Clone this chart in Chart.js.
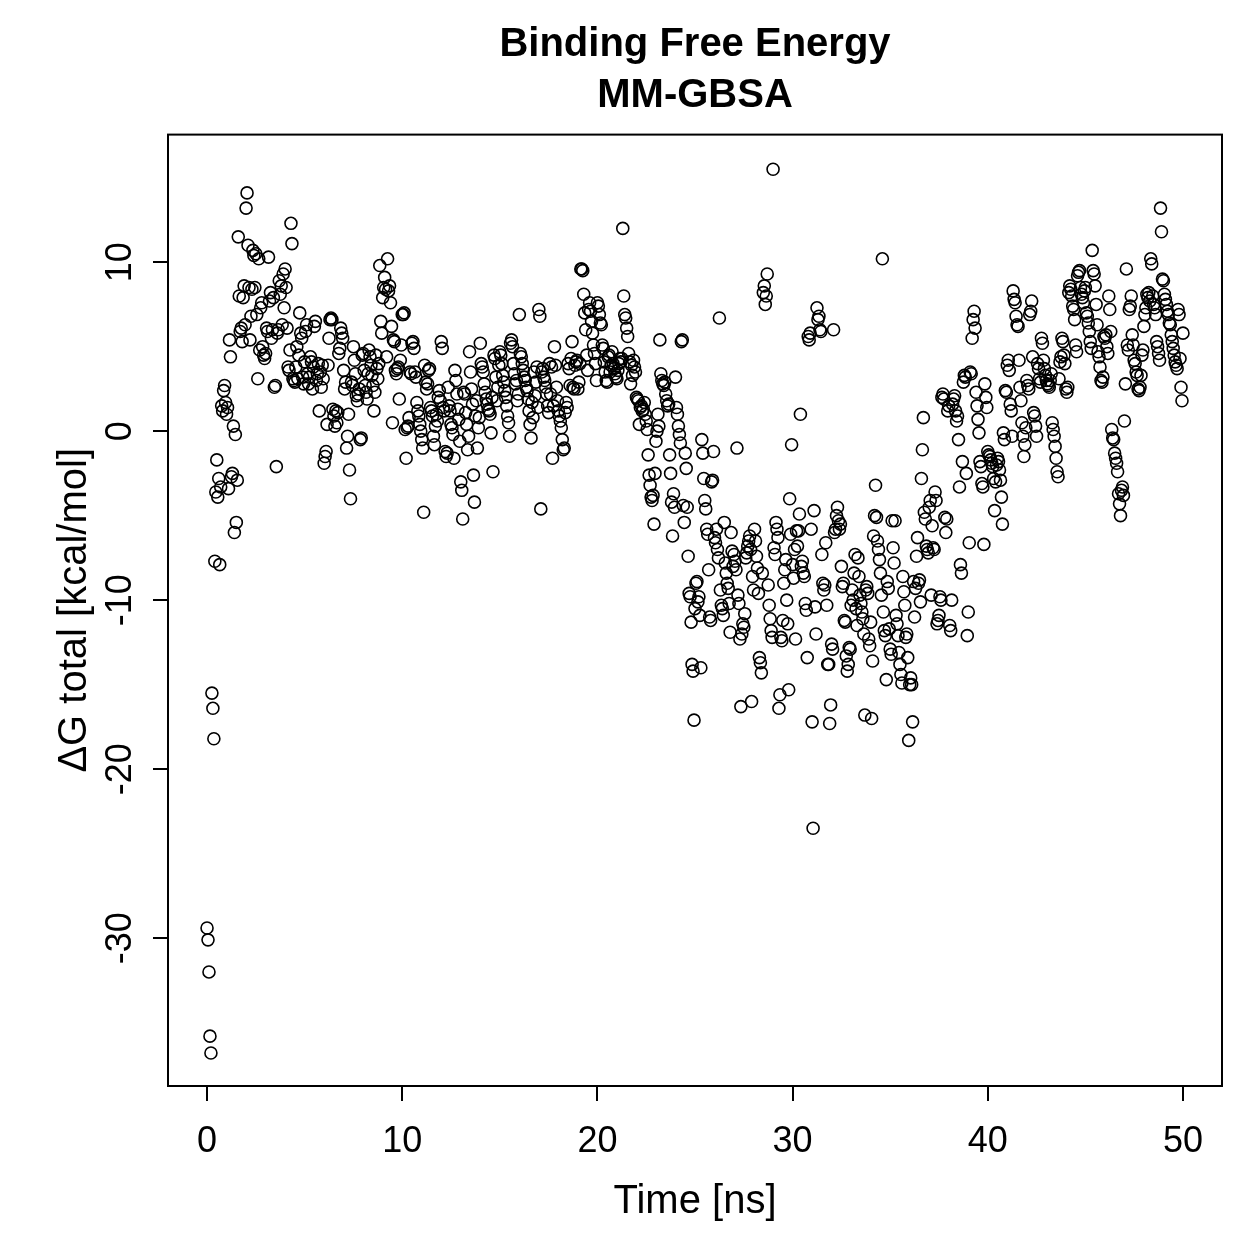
<!DOCTYPE html>
<html>
<head>
<meta charset="utf-8">
<title>Binding Free Energy</title>
<script src="https://cdn.jsdelivr.net/npm/chart.js"></script>
<style>
  html, body { margin: 0; padding: 0; background: #fff; }
  #bindingEnergy { display: block; }
</style>
</head>
<body>
<canvas id="bindingEnergy" width="1259" height="1259"></canvas>
<script>
// frame times (ns), 20 frames per ns
const timeNs = [
  0,0.05,0.1,0.15,0.2,0.25,0.3,0.35,0.4,0.45,0.5,0.55,0.6,0.65,0.7,0.75,0.8,0.85,0.9,0.95,
  1,1.05,1.1,1.15,1.2,1.25,1.3,1.35,1.4,1.45,1.5,1.55,1.6,1.65,1.7,1.75,1.8,1.85,1.9,1.95,
  2,2.05,2.1,2.15,2.2,2.25,2.3,2.35,2.4,2.45,2.5,2.55,2.6,2.65,2.7,2.75,2.8,2.85,2.9,2.95,
  3,3.05,3.1,3.15,3.2,3.25,3.3,3.35,3.4,3.45,3.5,3.55,3.6,3.65,3.7,3.75,3.8,3.85,3.9,3.95,
  4,4.05,4.1,4.15,4.2,4.25,4.3,4.35,4.4,4.45,4.5,4.55,4.6,4.65,4.7,4.75,4.8,4.85,4.9,4.95,
  5,5.05,5.1,5.15,5.2,5.25,5.3,5.35,5.4,5.45,5.5,5.55,5.6,5.65,5.7,5.75,5.8,5.85,5.9,5.95,
  6,6.05,6.1,6.15,6.2,6.25,6.3,6.35,6.4,6.45,6.5,6.55,6.6,6.65,6.7,6.75,6.8,6.85,6.9,6.95,
  7,7.05,7.1,7.15,7.2,7.25,7.3,7.35,7.4,7.45,7.5,7.55,7.6,7.65,7.7,7.75,7.8,7.85,7.9,7.95,
  8,8.05,8.1,8.15,8.2,8.25,8.3,8.35,8.4,8.45,8.5,8.55,8.6,8.65,8.7,8.75,8.8,8.85,8.9,8.95,
  9,9.05,9.1,9.15,9.2,9.25,9.3,9.35,9.4,9.45,9.5,9.55,9.6,9.65,9.7,9.75,9.8,9.85,9.9,9.95,
  10,10.05,10.1,10.15,10.2,10.25,10.3,10.35,10.4,10.45,10.5,10.55,10.6,10.65,10.7,10.75,10.8,10.85,10.9,10.95,
  11,11.05,11.1,11.15,11.2,11.25,11.3,11.35,11.4,11.45,11.5,11.55,11.6,11.65,11.7,11.75,11.8,11.85,11.9,11.95,
  12,12.05,12.1,12.15,12.2,12.25,12.3,12.35,12.4,12.45,12.5,12.55,12.6,12.65,12.7,12.75,12.8,12.85,12.9,12.95,
  13,13.05,13.1,13.15,13.2,13.25,13.3,13.35,13.4,13.45,13.5,13.55,13.6,13.65,13.7,13.75,13.8,13.85,13.9,13.95,
  14,14.05,14.1,14.15,14.2,14.25,14.3,14.35,14.4,14.45,14.5,14.55,14.6,14.65,14.7,14.75,14.8,14.85,14.9,14.95,
  15,15.05,15.1,15.15,15.2,15.25,15.3,15.35,15.4,15.45,15.5,15.55,15.6,15.65,15.7,15.75,15.8,15.85,15.9,15.95,
  16,16.05,16.1,16.15,16.2,16.25,16.3,16.35,16.4,16.45,16.5,16.55,16.6,16.65,16.7,16.75,16.8,16.85,16.9,16.95,
  17,17.05,17.1,17.15,17.2,17.25,17.3,17.35,17.4,17.45,17.5,17.55,17.6,17.65,17.7,17.75,17.8,17.85,17.9,17.95,
  18,18.05,18.1,18.15,18.2,18.25,18.3,18.35,18.4,18.45,18.5,18.55,18.6,18.65,18.7,18.75,18.8,18.85,18.9,18.95,
  19,19.05,19.1,19.15,19.2,19.25,19.3,19.35,19.4,19.45,19.5,19.55,19.6,19.65,19.7,19.75,19.8,19.85,19.9,19.95,
  20,20.05,20.1,20.15,20.2,20.25,20.3,20.35,20.4,20.45,20.5,20.55,20.6,20.65,20.7,20.75,20.8,20.85,20.9,20.95,
  21,21.05,21.1,21.15,21.2,21.25,21.3,21.35,21.4,21.45,21.5,21.55,21.6,21.65,21.7,21.75,21.8,21.85,21.9,21.95,
  22,22.05,22.1,22.15,22.2,22.25,22.3,22.35,22.4,22.45,22.5,22.55,22.6,22.65,22.7,22.75,22.8,22.85,22.9,22.95,
  23,23.05,23.1,23.15,23.2,23.25,23.3,23.35,23.4,23.45,23.5,23.55,23.6,23.65,23.7,23.75,23.8,23.85,23.9,23.95,
  24,24.05,24.1,24.15,24.2,24.25,24.3,24.35,24.4,24.45,24.5,24.55,24.6,24.65,24.7,24.75,24.8,24.85,24.9,24.95,
  25,25.05,25.1,25.15,25.2,25.25,25.3,25.35,25.4,25.45,25.5,25.55,25.6,25.65,25.7,25.75,25.8,25.85,25.9,25.95,
  26,26.05,26.1,26.15,26.2,26.25,26.3,26.35,26.4,26.45,26.5,26.55,26.6,26.65,26.7,26.75,26.8,26.85,26.9,26.95,
  27,27.05,27.1,27.15,27.2,27.25,27.3,27.35,27.4,27.45,27.5,27.55,27.6,27.65,27.7,27.75,27.8,27.85,27.9,27.95,
  28,28.05,28.1,28.15,28.2,28.25,28.3,28.35,28.4,28.45,28.5,28.55,28.6,28.65,28.7,28.75,28.8,28.85,28.9,28.95,
  29,29.05,29.1,29.15,29.2,29.25,29.3,29.35,29.4,29.45,29.5,29.55,29.6,29.65,29.7,29.75,29.8,29.85,29.9,29.95,
  30,30.05,30.1,30.15,30.2,30.25,30.3,30.35,30.4,30.45,30.5,30.55,30.6,30.65,30.7,30.75,30.8,30.85,30.9,30.95,
  31,31.05,31.1,31.15,31.2,31.25,31.3,31.35,31.4,31.45,31.5,31.55,31.6,31.65,31.7,31.75,31.8,31.85,31.9,31.95,
  32,32.05,32.1,32.15,32.2,32.25,32.3,32.35,32.4,32.45,32.5,32.55,32.6,32.65,32.7,32.75,32.8,32.85,32.9,32.95,
  33,33.05,33.1,33.15,33.2,33.25,33.3,33.35,33.4,33.45,33.5,33.55,33.6,33.65,33.7,33.75,33.8,33.85,33.9,33.95,
  34,34.05,34.1,34.15,34.2,34.25,34.3,34.35,34.4,34.45,34.5,34.55,34.6,34.65,34.7,34.75,34.8,34.85,34.9,34.95,
  35,35.05,35.1,35.15,35.2,35.25,35.3,35.35,35.4,35.45,35.5,35.55,35.6,35.65,35.7,35.75,35.8,35.85,35.9,35.95,
  36,36.05,36.1,36.15,36.2,36.25,36.3,36.35,36.4,36.45,36.5,36.55,36.6,36.65,36.7,36.75,36.8,36.85,36.9,36.95,
  37,37.05,37.1,37.15,37.2,37.25,37.3,37.35,37.4,37.45,37.5,37.55,37.6,37.65,37.7,37.75,37.8,37.85,37.9,37.95,
  38,38.05,38.1,38.15,38.2,38.25,38.3,38.35,38.4,38.45,38.5,38.55,38.6,38.65,38.7,38.75,38.8,38.85,38.9,38.95,
  39,39.05,39.1,39.15,39.2,39.25,39.3,39.35,39.4,39.45,39.5,39.55,39.6,39.65,39.7,39.75,39.8,39.85,39.9,39.95,
  40,40.05,40.1,40.15,40.2,40.25,40.3,40.35,40.4,40.45,40.5,40.55,40.6,40.65,40.7,40.75,40.8,40.85,40.9,40.95,
  41,41.05,41.1,41.15,41.2,41.25,41.3,41.35,41.4,41.45,41.5,41.55,41.6,41.65,41.7,41.75,41.8,41.85,41.9,41.95,
  42,42.05,42.1,42.15,42.2,42.25,42.3,42.35,42.4,42.45,42.5,42.55,42.6,42.65,42.7,42.75,42.8,42.85,42.9,42.95,
  43,43.05,43.1,43.15,43.2,43.25,43.3,43.35,43.4,43.45,43.5,43.55,43.6,43.65,43.7,43.75,43.8,43.85,43.9,43.95,
  44,44.05,44.1,44.15,44.2,44.25,44.3,44.35,44.4,44.45,44.5,44.55,44.6,44.65,44.7,44.75,44.8,44.85,44.9,44.95,
  45,45.05,45.1,45.15,45.2,45.25,45.3,45.35,45.4,45.45,45.5,45.55,45.6,45.65,45.7,45.75,45.8,45.85,45.9,45.95,
  46,46.05,46.1,46.15,46.2,46.25,46.3,46.35,46.4,46.45,46.5,46.55,46.6,46.65,46.7,46.75,46.8,46.85,46.9,46.95,
  47,47.05,47.1,47.15,47.2,47.25,47.3,47.35,47.4,47.45,47.5,47.55,47.6,47.65,47.7,47.75,47.8,47.85,47.9,47.95,
  48,48.05,48.1,48.15,48.2,48.25,48.3,48.35,48.4,48.45,48.5,48.55,48.6,48.65,48.7,48.75,48.8,48.85,48.9,48.95,
  49,49.05,49.1,49.15,49.2,49.25,49.3,49.35,49.4,49.45,49.5,49.55,49.6,49.65,49.7,49.75,49.8,49.85,49.9,49.95,
  50,
];

// ΔG total (kcal/mol), one row per ns
const deltaG = [
  -29.4,-30.1,-32.0,-35.8,-36.8,-15.5,-16.4,-18.2,-7.7,-3.6,-1.7,-3.9,-2.8,-7.9,-3.3,1.5,1.2,2.4,2.7,1.7,
  1.0,1.4,-3.4,5.4,4.4,-2.7,-2.5,0.3,-6.0,-0.2,-5.4,-2.9,11.5,8.0,5.9,6.1,5.3,7.9,8.6,6.3,
  13.2,14.1,11.0,8.5,5.4,6.8,8.4,10.7,10.4,8.5,10.5,6.9,3.1,10.2,4.8,7.3,7.6,5.0,4.5,4.3,
  4.6,6.1,5.9,10.3,7.7,8.2,5.5,6.0,7.9,2.6,2.7,-2.1,5.8,6.0,8.9,8.1,8.6,6.3,9.3,7.3,
  9.6,8.5,6.1,3.8,3.6,4.8,12.3,11.1,3.1,3.0,2.9,3.8,5.0,3.1,4.5,7.0,5.8,5.5,3.2,2.8,
  4.1,5.9,6.3,3.4,2.8,3.2,4.4,4.1,2.5,3.8,6.2,6.5,3.0,3.4,4.0,1.2,3.5,2.6,3.9,3.1,
  -1.9,-1.5,-1.2,0.4,3.9,5.5,6.6,6.7,6.6,1.3,0.9,0.3,1.2,0.5,1.1,4.6,4.9,6.1,5.8,5.5,
  3.6,2.5,2.9,-1.0,-0.3,1.0,-2.3,-4.0,2.9,2.7,5.0,4.2,3.4,2.1,1.8,2.2,2.5,-0.5,-0.4,4.5,
  4.6,3.6,2.7,2.3,1.9,3.4,4.8,4.4,3.9,3.3,2.7,1.2,2.3,4.5,3.7,3.1,4.0,9.8,6.5,5.8,
  7.9,8.5,9.1,8.4,4.4,10.2,8.3,8.6,7.6,6.2,0.5,5.4,5.3,3.6,3.4,3.7,3.8,1.9,4.2,5.1,
  6.9,6.9,7.0,0.1,-1.6,0.2,0.3,0.8,3.5,3.4,5.2,5.3,4.9,3.5,3.2,1.7,1.2,0.9,0.4,0.0,
  -0.5,-1.0,-4.8,3.9,2.9,2.5,2.8,3.6,3.7,1.4,1.2,0.9,-0.3,-0.8,0.3,1.0,0.6,2.0,2.4,1.8,
  5.3,4.9,1.4,1.2,-1.2,-1.5,-1.3,2.6,1.5,1.2,0.4,0.2,-0.2,-1.6,3.6,3.0,2.2,1.3,0.7,-0.6,
  -3.0,-3.5,-5.2,2.3,2.2,1.1,0.4,-1.1,-0.3,4.7,3.5,2.5,1.6,-2.6,-4.2,0.9,1.8,-1.0,0.2,0.8,
  5.2,4.0,3.8,3.5,2.8,2.3,1.9,1.6,1.3,1.2,1.0,-0.1,2.0,-2.4,4.5,4.3,3.2,1.8,2.6,3.9,
  4.7,4.5,4.0,3.3,2.9,2.4,2.0,1.5,0.9,0.5,-0.3,5.2,5.4,5.0,4.0,3.4,2.8,3.0,1.8,2.2,
  6.9,4.6,4.4,4.0,3.6,3.2,3.0,2.6,2.4,1.9,1.2,0.4,-0.4,1.7,0.8,3.5,2.1,2.9,3.8,1.4,
  7.2,6.8,-4.6,3.5,3.7,3.2,3.0,2.6,2.2,1.5,1.1,4.0,2.2,3.8,-1.6,1.5,5.0,3.9,2.6,1.8,
  1.2,0.9,0.6,0.2,-0.5,-1.1,-1.0,1.1,1.7,1.4,4.0,3.7,2.7,4.3,5.3,2.6,2.5,3.9,4.1,4.2,
  2.5,2.9,4.0,9.6,9.6,9.5,8.1,7.0,6.0,4.5,3.6,7.2,7.6,7.1,6.5,5.8,5.1,4.6,4.0,3.0,
  7.6,7.4,6.9,6.4,6.3,5.1,4.9,4.1,3.5,3.0,2.9,4.4,4.5,3.5,3.9,4.7,4.0,3.7,3.4,3.2,
  3.1,3.6,4.0,4.3,4.1,4.3,12.0,8.0,6.9,6.7,6.1,5.6,4.6,4.1,2.8,3.9,3.3,4.2,3.8,3.5,
  2.0,1.9,1.8,0.4,1.4,1.5,1.2,1.3,1.7,1.0,0.6,0.1,-1.4,-2.6,-3.2,-3.9,-4.1,-3.8,-5.5,-2.5,
  -0.6,0.0,1.0,0.3,5.4,3.4,3.0,2.8,2.7,2.9,2.2,1.8,1.5,1.6,-1.4,-2.5,-4.2,-6.2,-3.7,-4.5,
  3.2,1.4,1.0,0.3,-0.2,-0.7,5.3,5.4,-4.4,-5.4,-1.3,-2.2,-4.5,-7.4,-9.6,-9.8,-11.3,-13.8,-14.2,-17.1,
  -10.5,-9.0,-8.9,-10.1,-9.8,-10.9,-14.0,-0.5,-1.3,-2.8,-4.1,-4.6,-5.8,-6.1,-8.2,-11.0,-11.2,-3.0,-2.9,-1.2,
  -6.3,-6.6,-5.8,-7.0,-7.5,6.7,-9.4,-10.3,-10.5,-10.9,-5.4,-7.8,-8.4,-9.0,-9.3,-10.2,-11.9,-6.0,-7.1,-8.0,
  -7.3,-7.7,-8.2,-1.0,-9.7,-10.2,-12.3,-16.3,-12.0,-11.4,-11.6,-10.8,-7.5,-7.2,-6.8,-6.5,-6.2,-7.0,-16.0,-8.6,
  -9.4,-5.8,-6.5,-7.4,-8.1,-9.6,-13.4,-13.7,-14.3,-8.4,8.2,8.6,7.5,8.0,9.3,-9.1,-10.3,-11.1,-11.8,-12.2,
  15.5,-6.9,-7.3,-5.4,-5.8,-6.3,-16.4,-15.6,-12.2,-12.4,-11.2,-9.0,-8.2,-7.6,-10.0,-11.4,-15.3,-4.0,-6.1,-0.8,
  -7.9,-8.7,-7.0,-12.3,-5.9,-6.8,-5.9,-4.9,1.0,-8.0,-7.7,-8.4,-8.6,-10.2,-10.6,-13.4,5.6,5.4,5.8,-5.8,
  -17.2,-23.5,-4.7,-10.4,-12.0,7.3,6.6,6.8,6.0,5.9,-7.3,-9.0,-9.4,-9.1,-6.6,-10.3,-13.8,-13.8,-17.3,-16.2,
  -12.6,-12.9,6.0,-6.0,-5.8,-5.0,-4.5,-5.3,-5.8,-5.5,-8.0,-9.2,-9.0,-11.2,-11.3,-13.3,-14.2,-13.8,-12.8,-12.9,
  -10.3,-9.4,-10.0,-8.4,-7.3,-10.5,-11.5,-7.5,-8.6,-9.7,-10.2,-10.7,-11.1,-12.0,-16.8,-9.4,-9.2,-9.6,-12.3,-12.7,
  -11.3,-17.0,-13.6,-6.2,-5.0,-3.2,-5.1,-6.5,-7.0,-7.6,-8.4,-9.7,10.2,-10.7,-11.8,-12.1,-14.7,-8.9,-9.3,-11.7,
  -12.9,-13.2,-5.3,-6.9,-7.8,-5.3,-10.9,-11.4,-12.1,-13.1,-13.8,-14.4,-14.9,-8.6,-9.5,-10.3,-12.2,-12.0,-13.4,-18.3,
  -15.0,-14.6,-15.0,-17.2,-8.9,-11.0,-9.3,-7.4,-6.3,-9.0,-8.8,-10.1,-2.8,-1.1,0.8,-4.8,-5.2,-6.8,-7.0,-7.2,
  -4.5,-4.1,-9.7,-5.6,-6.9,-7.0,-3.6,-4.1,-11.4,-11.2,-10.9,-9.8,-10.0,2.0,2.2,1.9,-5.1,-6.0,-5.2,1.2,
  1.5,-11.5,-11.8,-10.0,1.6,1.9,2.1,1.2,0.6,0.9,-0.5,-3.3,-7.9,-8.4,-1.8,2.9,3.3,3.2,-2.5,-12.1,
  -10.7,-6.6,3.5,3.4,5.5,6.6,7.1,6.1,2.3,1.5,0.7,-0.1,-1.8,-2.1,-3.1,-3.3,-6.7,2.8,2.0,1.4,
  -1.2,-1.4,-1.5,-1.7,-1.9,-2.1,-2.8,-4.7,-3.0,-2.0,-1.6,-1.8,-2.3,-2.9,-3.9,-5.5,-0.1,-0.5,2.4,2.3,
  3.9,4.2,3.6,1.6,1.2,-0.3,8.3,7.8,7.6,6.8,6.3,6.2,4.2,2.6,1.8,0.5,-0.3,-1.5,-0.8,0.2,
  3.0,2.7,2.5,6.9,7.1,7.7,4.4,1.1,0.9,0.3,-0.3,4.0,3.7,3.1,2.9,5.5,5.2,4.2,3.7,3.3,
  3.0,2.8,2.7,2.6,3.0,3.4,0.5,0.1,-0.3,-0.9,-1.6,-2.4,-2.7,3.1,4.1,4.4,5.5,5.3,4.5,4.0,
  2.5,2.3,2.6,8.2,8.6,8.4,8.0,7.4,7.2,6.6,5.1,4.7,9.2,9.4,9.5,8.5,8.1,7.9,7.6,8.3,
  8.5,7.0,6.8,6.4,5.9,5.3,4.9,10.7,9.5,9.3,8.6,7.5,6.3,4.7,4.4,3.8,3.0,2.9,3.2,5.6,
  5.5,5.7,5.0,4.6,8.0,7.2,5.9,0.1,-0.4,-0.5,-1.3,-1.6,-1.9,-2.4,-3.7,-4.3,-5.0,-3.5,-3.3,-3.8,
  0.6,2.8,9.6,5.1,4.8,7.2,7.4,8.0,5.7,5.1,4.2,4.0,3.5,3.3,2.5,2.4,2.6,3.3,4.5,4.8,
  6.2,6.9,7.3,8.1,7.9,8.2,7.7,10.2,9.9,8.0,7.5,7.3,6.9,5.3,5.0,4.6,4.2,13.2,11.8,9.0,
  8.9,8.1,7.8,7.5,7.1,6.9,6.4,6.3,5.7,5.3,4.9,4.5,4.1,3.9,3.7,7.2,6.9,4.3,2.6,1.8,
  5.8,
];

const xTicks = [0, 10, 20, 30, 40, 50];
const yTicks = [-30, -20, -10, 0, 10];
const titleLines = ["Binding Free Energy", "MM-GBSA"];
const xLabel = "Time [ns]";
const yLabel = "ΔG total [kcal/mol]";

const fontFamily = '"Liberation Sans", Arial, Helvetica, sans-serif';

// R draws a full frame round the plot region
const plotFrame = {
    id: "plotFrame",
    afterDraw(chart) {
        const { ctx, chartArea: a } = chart;
        ctx.save();
        ctx.strokeStyle = "#000";
        ctx.lineWidth = 2;
        ctx.strokeRect(a.left, a.top, a.right - a.left, a.bottom - a.top);
        ctx.restore();
    },
};

document.addEventListener("DOMContentLoaded", () => {
    const chartEle = document.getElementById("bindingEnergy");

    new Chart(chartEle, {
        type: "scatter",
        data: {
            datasets: [
                {
                    label: "dG",
                    data: timeNs.map((t, i) => ({ x: t, y: deltaG[i] })),
                    pointStyle: "circle",
                    pointRadius: 6,
                    pointBorderWidth: 1.6,
                    pointBorderColor: "#000",
                    pointBackgroundColor: "transparent",
                },
            ],
        },
        options: {
            responsive: false,
            animation: false,
            devicePixelRatio: 1,
            layout: {
                padding: { left: 0, right: 37, top: 0, bottom: 0 },
            },
            plugins: {
                legend: { display: false },
                tooltip: { enabled: false },
                title: {
                    display: true,
                    text: titleLines,
                    fullSize: false,
                    color: "#000",
                    font: { family: fontFamily, size: 40, weight: "bold", lineHeight: 1.27 },
                    padding: { top: 20, bottom: 13 },
                },
            },
            scales: {
                x: {
                    type: "linear",
                    min: -2,
                    max: 52,
                    afterBuildTicks: (s) => {
                        s.ticks = xTicks.map((v) => ({ value: v }));
                    },
                    afterFit: (s) => {
                        s.height = 173;
                    },
                    border: { display: false },
                    grid: {
                        drawOnChartArea: false,
                        color: "#000",
                        lineWidth: 2,
                        tickLength: 15,
                    },
                    ticks: {
                        color: "#000",
                        autoSkip: false,
                        maxRotation: 0,
                        padding: 19,
                        font: { family: fontFamily, size: 36 },
                    },
                    title: {
                        display: true,
                        text: xLabel,
                        color: "#000",
                        font: { family: fontFamily, size: 40 },
                        padding: { top: 0, bottom: 33 },
                    },
                },
                y: {
                    type: "linear",
                    min: -38.75,
                    max: 17.55,
                    afterBuildTicks: (s) => {
                        s.ticks = yTicks.map((v) => ({ value: v }));
                    },
                    afterFit: (s) => {
                        s.width = 168;
                    },
                    border: { display: false },
                    grid: {
                        drawOnChartArea: false,
                        color: "#000",
                        lineWidth: 2,
                        tickLength: 15,
                    },
                    ticks: {
                        color: "#000",
                        autoSkip: false,
                        minRotation: 90,
                        maxRotation: 90,
                        crossAlign: "center",
                        padding: 6,
                        font: { family: fontFamily, size: 36 },
                    },
                    title: {
                        display: true,
                        text: yLabel,
                        color: "#000",
                        font: { family: fontFamily, size: 40 },
                        padding: { top: 51, bottom: 0 },
                    },
                },
            },
        },
        plugins: [plotFrame],
    });
});
</script>
</body>
</html>
